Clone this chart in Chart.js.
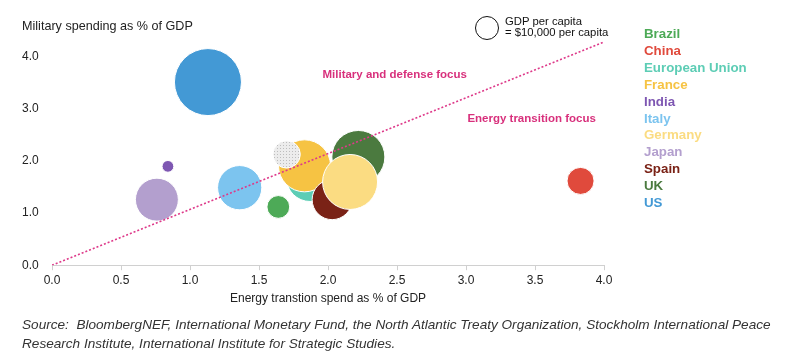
<!DOCTYPE html>
<html><head><meta charset="utf-8">
<script src="https://cdn.jsdelivr.net/npm/chart.js@4.4.1/dist/chart.umd.min.js"></script>
<style>
html,body{margin:0;padding:0;background:#fff;}
#wrap{position:relative;width:793px;height:358px;font-family:"Liberation Sans",Arial,sans-serif;color:#222;}
canvas{position:absolute;left:0;top:0;}
.abs{position:absolute;white-space:nowrap;}
#ytitle{left:22px;top:19px;font-size:12.6px;color:#222;}
#legend{left:644px;top:26px;font-size:13.3px;font-weight:bold;line-height:16.9px;}
#sizeKey{left:475px;top:16px;width:22px;height:22px;border:1.3px solid #111;border-radius:50%;}
#sizeTxt{left:505px;top:16px;font-size:11.3px;line-height:10.5px;color:#111;}
#source{left:22px;top:315px;font-size:13.6px;font-style:italic;line-height:19px;color:#333;}
</style></head>
<body><div id="wrap">
<canvas id="c" width="793" height="358"></canvas>
<div class="abs" id="ytitle">Military spending as % of GDP</div>
<div class="abs" id="sizeKey"></div>
<div class="abs" id="sizeTxt">GDP per capita<br>= $10,000 per capita</div>
<div class="abs" id="legend"></div>
<div class="abs" id="source">Source:&nbsp; BloombergNEF, International Monetary Fund, the North Atlantic Treaty Organization, Stockholm International Peace<br>Research Institute, International Institute for Strategic Studies.</div>
</div>
<script>
// ---- data ----
const countries = ['Brazil','China','European Union','France','India','Italy','Germany','Japan','Spain','UK','US'];
const energySpend = [1.64, 3.83, 1.87, 1.83, 0.84, 1.36, 2.16, 0.76, 2.03, 2.22, 1.13];   // % of GDP (x)
const militarySpend = [1.12, 1.62, 1.68, 1.91, 1.90, 1.49, 1.60, 1.26, 1.26, 2.08, 3.52]; // % of GDP (y)
const gdpPerCapitaK = [9.0, 12.7, 39, 47, 2.4, 34, 52.5, 32, 27.8, 48.8, 78];           // $ thousands
const countryColors = ['#4DAA57','#E04A3C','#5DCDB5','#F6C343','#7E57B2','#7CC4EF','#FBDC82','#B39FCE','#7A2216','#4B7A3F','#4399D5'];
// unlabelled (grey, textured) bubble
const otherX = [1.70];
const otherY = [2.13];
const otherGdpK = [13.0];
// tick labels
const xTicks = [0, 0.5, 1.0, 1.5, 2.0, 2.5, 3.0, 3.5, 4.0];
const yTicks = [0, 1, 2, 3, 4];
// divider line
const divider = [{x:0, y:0}, {x:4.0, y:4.29}];
const annotations = [
  {text:'Military and defense focus', x:1.96, y:3.66},
  {text:'Energy transition focus', x:3.01, y:2.82}
];

// ---- legend ----
document.getElementById('legend').innerHTML = countries.map((c,i)=>`<div style="color:${countryColors[i]}">${c}</div>`).join('');

// ---- textured grey pattern ----
const pc = document.createElement('canvas'); pc.width = 3; pc.height = 3;
const pctx = pc.getContext('2d');
pctx.fillStyle = '#ececec'; pctx.fillRect(0,0,3,3);
pctx.fillStyle = '#bdbdbd'; pctx.fillRect(1,1,1,1);
const greyPattern = pctx.createPattern(pc,'repeat');

const radius = g => 12 * Math.sqrt(g / 10);
const pts = countries.map((c,i)=>({name:c, x:energySpend[i], y:militarySpend[i], r:radius(gdpPerCapitaK[i]), color:countryColors[i]}));
otherX.forEach((v,i)=>pts.push({name:'Other', x:v, y:otherY[i], r:radius(otherGdpK[i]), color:greyPattern}));
const zOrder = ['US','India','Japan','Italy','Brazil','China','European Union','France','Other','UK','Spain','Germany'];
pts.sort((a,b)=>zOrder.indexOf(a.name)-zOrder.indexOf(b.name));

const annot = {
  id:'annot',
  afterDatasetsDraw(chart){
    const {ctx, scales:{x,y}} = chart;
    ctx.save();
    ctx.font = 'bold 11.5px "Liberation Sans", Arial, sans-serif';
    ctx.fillStyle = '#D8307C';
    ctx.textBaseline = 'middle';
    annotations.forEach(a=>ctx.fillText(a.text, x.getPixelForValue(a.x), y.getPixelForValue(a.y)));
    ctx.restore();
  }
};

new Chart(document.getElementById('c'), {
  data:{datasets:[
    {type:'line', data:divider, borderColor:'#DE3A8A', borderWidth:1.6, borderDash:[2,2], pointRadius:0, fill:false, order:0},
    {type:'bubble', data:pts.map(p=>({x:p.x,y:p.y,r:p.r})), backgroundColor:pts.map(p=>p.color), borderColor:'#ffffff', borderWidth:1, order:1}
  ]},
  options:{
    responsive:false, animation:false, devicePixelRatio:1,
    layout:{padding:{left:22, right:189, top:41.5, bottom:52}},
    plugins:{legend:{display:false}, tooltip:{enabled:false}},
    scales:{
      x:{type:'linear', min:0, max:4,
        afterBuildTicks:s=>{s.ticks = xTicks.map(v=>({value:v}));},
        ticks:{callback:v=>v.toFixed(1), color:'#222', font:{size:12, family:'"Liberation Sans", Arial, sans-serif'}, padding:3, maxRotation:0, autoSkip:false},
        grid:{display:true, drawOnChartArea:false, drawTicks:true, tickLength:5, color:'#d0d0d0'},
        border:{display:true, color:'#d0d0d0'},
        title:{display:true, text:'Energy transtion spend as % of GDP', color:'#222', font:{size:12, family:'"Liberation Sans", Arial, sans-serif'}, padding:{top:1,bottom:0}}
      },
      y:{type:'linear', min:0, max:4.3,
        afterBuildTicks:s=>{s.ticks = yTicks.map(v=>({value:v}));},
        afterFit:s=>{s.width = 30;},
        ticks:{callback:v=>v.toFixed(1), color:'#222', crossAlign:'far', padding:0, font:{size:12, family:'"Liberation Sans", Arial, sans-serif'}},
        grid:{display:false}, border:{display:false}
      }
    }
  },
  plugins:[annot]
});
</script>
</body></html>
